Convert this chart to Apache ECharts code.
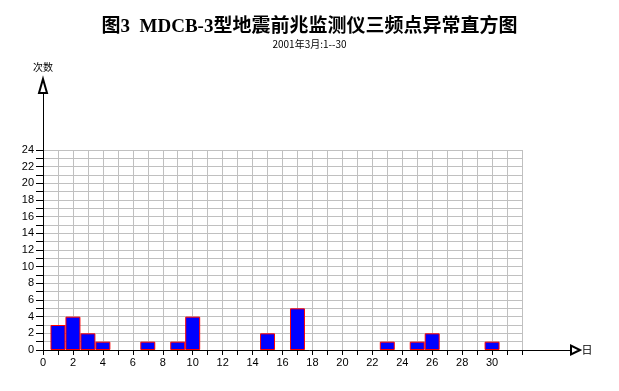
<!DOCTYPE html>
<html>
<head>
<meta charset="utf-8">
<script src="https://cdn.jsdelivr.net/npm/echarts@6/dist/echarts.min.js"></script>
<style>
html,body{margin:0;padding:0;background:#fff;}
#chart{width:619px;height:391px;}
</style>
</head>
<body>
<div id="chart"></div>
<script>
const titleText = '图3  MDCB-3型地震前兆监测仪三频点异常直方图';
const subtitleText = '2001年3月:1--30';
const yAxisName = '次数';
const xAxisName = '日';
const days = [1, 2, 3, 4, 7, 9, 10, 15, 17, 23, 25, 26, 30];
const counts = [3, 4, 2, 1, 1, 1, 4, 2, 5, 1, 1, 2, 1];
const xMax = 32;
const xLabelMax = 30;
const yMax = 24;

const chart = echarts.init(document.getElementById('chart'), null, {renderer: 'canvas'});
const labelFont = {fontFamily: "'Liberation Sans', Arial, sans-serif", fontSize: 11, color: '#000'};

chart.setOption({
  animation: false,
  backgroundColor: '#fff',
  title: [{
    text: titleText,
    left: 'center',
    top: 13,
    textStyle: {fontFamily: "'Liberation Serif', 'Noto Sans CJK SC', serif", fontSize: 19, fontWeight: 'bold', color: '#000'}
  }, {
    text: subtitleText,
    left: 'center',
    top: 34,
    textStyle: {fontFamily: "'Noto Sans CJK SC', sans-serif", fontSize: 10, fontWeight: 'normal', color: '#000'}
  }],
  grid: [
    {left: 43, top: 150, right: 97, bottom: 41, containLabel: false},
    {left: 43, top: 86, right: 43.5, bottom: 41, containLabel: false}
  ],
  xAxis: [{
    type: 'value', gridIndex: 0, min: 0, max: xMax, interval: 1,
    axisLine: {show: false},
    axisTick: {show: true, length: 5, lineStyle: {color: '#000'}},
    axisLabel: Object.assign({
      margin: 7,
      formatter: v => (v % 2 === 0 && v <= xLabelMax) ? String(v) : ''
    }, labelFont),
    splitLine: {show: true, lineStyle: {color: '#c0c0c0', width: 1}}
  }, {
    type: 'value', gridIndex: 1, min: 0, max: 1,
    name: xAxisName, nameLocation: 'end', nameGap: 6,
    nameTextStyle: {fontFamily: "'Noto Sans CJK SC', sans-serif", fontSize: 11, color: '#000'},
    axisLine: {show: true, symbol: ['none', 'emptyTriangle'], symbolSize: [9, 9], lineStyle: {color: '#000', width: 1}},
    axisTick: {show: false}, axisLabel: {show: false}, splitLine: {show: false}
  }],
  yAxis: [{
    type: 'value', gridIndex: 0, min: 0, max: yMax, interval: 1,
    axisLine: {show: false},
    axisTick: {show: true, length: 7, lineStyle: {color: '#000'}},
    axisLabel: Object.assign({
      margin: 9,
      formatter: v => (v % 2 === 0) ? String(v) : ''
    }, labelFont),
    splitLine: {show: true, lineStyle: {color: '#c0c0c0', width: 1}}
  }, {
    type: 'value', gridIndex: 1, min: 0, max: 1,
    name: yAxisName, nameLocation: 'end', nameGap: 14,
    nameTextStyle: {fontFamily: "'Noto Sans CJK SC', sans-serif", fontSize: 10, color: '#000', align: 'center'},
    axisLine: {show: true, symbol: ['none', 'emptyTriangle'], symbolSize: [8, 14], lineStyle: {color: '#000', width: 1}},
    axisTick: {show: false}, axisLabel: {show: false}, splitLine: {show: false}
  }],
  series: [{
    type: 'bar',
    xAxisIndex: 0, yAxisIndex: 0,
    barWidth: '100%',
    data: days.map((d, i) => [d, counts[i]]),
    itemStyle: {color: '#0000ff', borderColor: '#ff0000', borderWidth: 1},
    z: 3
  }]
});
</script>
</body>
</html>
